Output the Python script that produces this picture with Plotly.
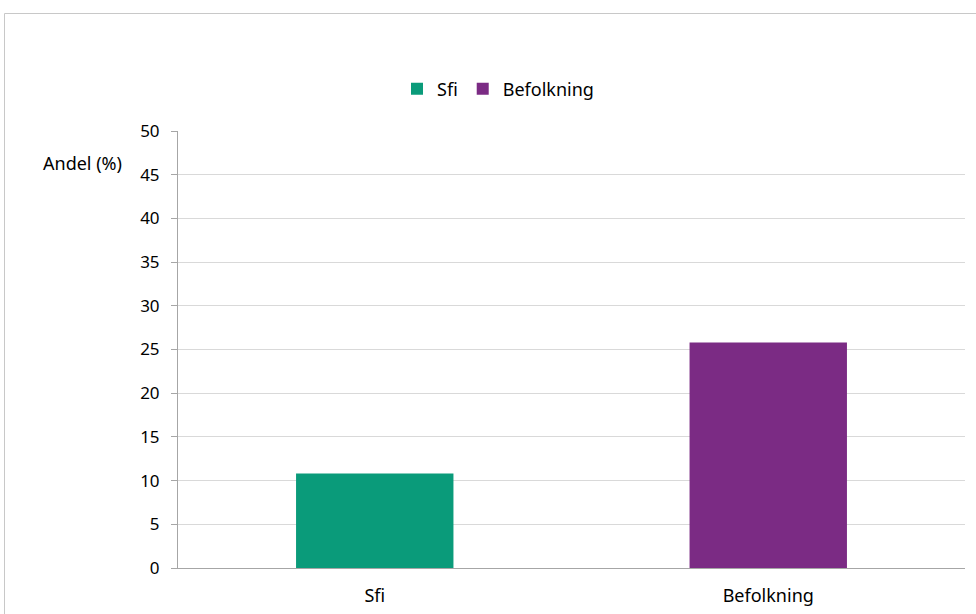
import plotly.graph_objects as go

categories = ["Sfi", "Befolkning"]
values = [10.8, 25.8]
colors = ["#0a9b7a", "#7b2b84"]
y_ticks = [0, 5, 10, 15, 20, 25, 30, 35, 40, 45, 50]

W, H = 976, 614
L, R, T, B = 178, 11, 131, 46
pw, ph = W - L - R, H - T - B

def px_x(px):
    return (px - L) / pw

def px_y(py):
    return (H - B - py) / ph

FONT = "Noto Sans"

fig = go.Figure()
for c, v, col in zip(categories, values, colors):
    fig.add_trace(go.Bar(x=[c], y=[v], name=c, marker=dict(color=col, line=dict(width=0)),
                         width=0.4, offset=-0.2))

fig.update_layout(
    width=W, height=H,
    margin=dict(l=L, r=R, t=T, b=B, autoexpand=False),
    paper_bgcolor="white", plot_bgcolor="white",
    font=dict(family=FONT, size=18, color="#000000"),
    barmode="overlay",
    showlegend=True,
    legend=dict(orientation="h", x=px_x(397), y=px_y(89), xanchor="left", yanchor="middle",
                font=dict(family=FONT, size=18, color="#000"), itemwidth=30,
                tracegroupgap=0, bgcolor="rgba(0,0,0,0)"),
    xaxis=dict(categoryorder="array", categoryarray=categories, showgrid=False,
               showline=True, linecolor="#a6a6a6", linewidth=1, ticks="",
               ticklabelstandoff=11, tickfont=dict(size=18), fixedrange=True,
               automargin=False),
    yaxis=dict(range=[0, 50], tickvals=y_ticks, showgrid=True, gridcolor="#d9d9d9",
               gridwidth=1, showline=True, linecolor="#a6a6a6", linewidth=1,
               ticks="outside", ticklen=6, tickcolor="#a6a6a6",
               ticklabelstandoff=8, tickfont=dict(size=17), zeroline=False,
               automargin=False),
    annotations=[dict(text="Andel (%)", x=px_x(124), y=px_y(163), xref="paper", yref="paper",
                      xanchor="right", yanchor="middle", showarrow=False,
                      font=dict(family=FONT, size=18, color="#000"))],
    shapes=[dict(type="rect", xref="paper", yref="paper",
                 x0=px_x(4.5), x1=px_x(990), y0=px_y(630), y1=px_y(13.5),
                 line=dict(color="#c8c8c8", width=1), fillcolor="rgba(0,0,0,0)", layer="below")],
)

fig.write_html("out.html")
